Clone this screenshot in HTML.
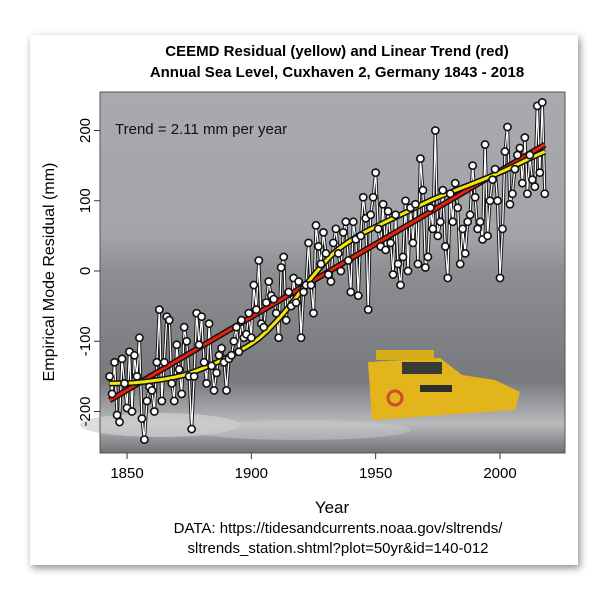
<!DOCTYPE html>
<html><head><meta charset="utf-8"><style>
html,body{margin:0;padding:0;background:#fff;}
svg{display:block;font-family:"Liberation Sans",sans-serif;}
</style></head><body>
<svg id="chart" width="608" height="600" viewBox="0 0 608 600">
<defs>
<filter id="sh" x="-10%" y="-10%" width="120%" height="120%"><feDropShadow dx="2" dy="3" stdDeviation="4" flood-color="#000" flood-opacity="0.45"/></filter>
<linearGradient id="bg" x1="0" y1="0" x2="0" y2="1">
<stop offset="0" stop-color="#a9a9b0"/><stop offset="0.4" stop-color="#a3a4a9"/>
<stop offset="0.5" stop-color="#8c8e92"/><stop offset="0.8" stop-color="#77797d"/>
<stop offset="0.92" stop-color="#b8babc"/><stop offset="1" stop-color="#6f7175"/></linearGradient>
</defs>
<rect x="30" y="35" width="548" height="530" fill="#fff" filter="url(#sh)"/>
<text x="337" y="56" text-anchor="middle" font-size="15" font-weight="bold">CEEMD Residual (yellow) and Linear Trend (red)</text>
<text x="337" y="77" text-anchor="middle" font-size="15" font-weight="bold">Annual Sea Level, Cuxhaven 2, Germany 1843 - 2018</text>
<g>
<rect x="100" y="92" width="465" height="361" fill="url(#bg)"/>
<ellipse cx="160" cy="425" rx="80" ry="12" fill="#d0d1d3" opacity="0.7"/>
<ellipse cx="300" cy="430" rx="110" ry="10" fill="#c8c9cb" opacity="0.5"/>
<g>
<path d="M368 362 L440 358 L462 375 L495 380 L520 392 L515 410 L372 420 Z" fill="#e3b51c"/>
<rect x="376" y="350" width="58" height="10" fill="#d8ad1a"/>
<rect x="402" y="362" width="40" height="12" fill="#3a3a36"/>
<rect x="420" y="385" width="32" height="7" fill="#2d2d2a"/>
<circle cx="395" cy="398" r="7" fill="none" stroke="#d24a2a" stroke-width="3"/>
</g>
</g>
<g id="marks"></g>
<rect x="100" y="92" width="465" height="361" fill="none" stroke="#555" stroke-width="1"/>
<text x="115" y="134" font-size="15" fill="#111">Trend = 2.11 mm per year</text>
<g id="axes"></g>
<text x="332" y="513" text-anchor="middle" font-size="17">Year</text>
<text transform="translate(54,272) rotate(-90)" text-anchor="middle" font-size="16">Empirical Mode Residual (mm)</text>
<text x="338" y="533" text-anchor="middle" font-size="15">DATA: https://tidesandcurrents.noaa.gov/sltrends/</text>
<text x="338" y="553" text-anchor="middle" font-size="15">sltrends_station.shtml?plot=50yr&amp;id=140-012</text>
</svg>
<script>
const startYear = 1843;
const seaLevel = [
-150,-175,-130,-205,-215,-125,-160,-195,-115,-200,
-120,-150,-95,-210,-240,-185,-165,-170,-200,-130,
-55,-185,-130,-65,-70,-160,-185,-105,-140,-175,
-80,-100,-150,-225,-150,-60,-105,-65,-130,-160,
-75,-135,-170,-145,-120,-110,-130,-170,-125,-120,
-100,-80,-115,-70,-95,-90,-60,-95,-20,-55,
15,-75,-80,-45,-15,-35,-40,-60,-95,5,
20,-70,-30,-50,-10,-45,-15,-95,-30,-20,
40,-20,-60,65,35,10,55,25,-5,-15,
40,60,25,0,55,70,15,-30,70,45,
-35,50,105,75,-55,80,105,140,60,35,
95,30,85,40,-5,80,10,-20,20,100,
0,90,40,95,10,160,115,5,20,90,
60,200,50,70,115,35,-10,110,70,125,
90,10,60,25,70,80,150,105,60,70,
45,180,50,100,130,145,100,-10,60,170,
205,95,110,145,165,175,125,190,110,165,
130,120,235,140,240,110];
const residualYears = [1843,1853,1863,1873,1883,1893,1903,1913,1923,1933,1943,1953,1963,1973,1983,1993,2003,2013,2018];
const residualValues = [-160,-159,-155,-148,-135,-118,-96,-60,-15,25,50,68,85,102,116,130,145,162,170];
const trendYears = [1843,2018];
const trendValues = [-184,180];
const xTicks = [1850,1900,1950,2000];
const yTicks = [-200,-100,0,100,200];

const xs = y => 127 + (y-1850)*(500-127)/150;
const ys = v => 271 - v*0.7025;
const NS = "http://www.w3.org/2000/svg";
const marks = document.getElementById('marks');
const axes = document.getElementById('axes');
function mk(tag, attrs, parent){const e=document.createElementNS(NS,tag);for(const k in attrs)e.setAttribute(k,attrs[k]);parent.appendChild(e);return e;}

const pts = seaLevel.map((v,i)=>xs(startYear+i).toFixed(1)+","+ys(v).toFixed(1)).join(" ");
const l1 = mk('polyline',{points:pts,fill:'none',stroke:'#111','stroke-width':3.2},marks);


const l2 = mk('polyline',{points:pts,fill:'none',stroke:'#fff','stroke-width':1.3},marks);



function smoothPath(xa, va){
  const p = xa.map((x,i)=>[xs(x), ys(va[i])]);
  let d = 'M'+p[0][0].toFixed(1)+' '+p[0][1].toFixed(1);
  for(let i=0;i<p.length-1;i++){
    const p0=p[Math.max(0,i-1)],p1=p[i],p2=p[i+1],p3=p[Math.min(p.length-1,i+2)];
    const c1=[p1[0]+(p2[0]-p0[0])/6,p1[1]+(p2[1]-p0[1])/6];
    const c2=[p2[0]-(p3[0]-p1[0])/6,p2[1]-(p3[1]-p1[1])/6];
    d+=` C${c1[0].toFixed(1)} ${c1[1].toFixed(1)} ${c2[0].toFixed(1)} ${c2[1].toFixed(1)} ${p2[0].toFixed(1)} ${p2[1].toFixed(1)}`;
  }
  return d;
}
const rp = smoothPath(trendYears, trendValues);
const r0 = mk('path',{d:rp,fill:'none',stroke:'#111','stroke-width':6},marks);


const r1 = mk('path',{d:rp,fill:'none',stroke:'#e8200c','stroke-width':3},marks);


const yp = smoothPath(residualYears, residualValues);
const y0 = mk('path',{d:yp,fill:'none',stroke:'#111','stroke-width':6,'stroke-linejoin':'round'},marks);


const y1 = mk('path',{d:yp,fill:'none',stroke:'#f2e80c','stroke-width':3,'stroke-linejoin':'round'},marks);



seaLevel.forEach((v,i)=>{
  const c = mk('circle',{cx:xs(startYear+i),cy:ys(v),r:3.6,fill:'#fff',stroke:'#111','stroke-width':1.6},marks);
  
  
});

xTicks.forEach(t=>{
  const ln = mk('line',{x1:xs(t),x2:xs(t),y1:453,y2:459,stroke:'#333'},axes);
  
  
  const tx = mk('text',{x:xs(t),y:478,'text-anchor':'middle','font-size':15},axes);
  tx.textContent = t;
  
  
});
yTicks.forEach(t=>{
  const ln = mk('line',{x1:94,x2:100,y1:ys(t),y2:ys(t),stroke:'#333'},axes);
  
  
  const tx = mk('text',{transform:`translate(90,${ys(t)}) rotate(-90)`,'text-anchor':'middle','font-size':15},axes);
  tx.textContent = t;
  
  
});
</script>
</body></html>
